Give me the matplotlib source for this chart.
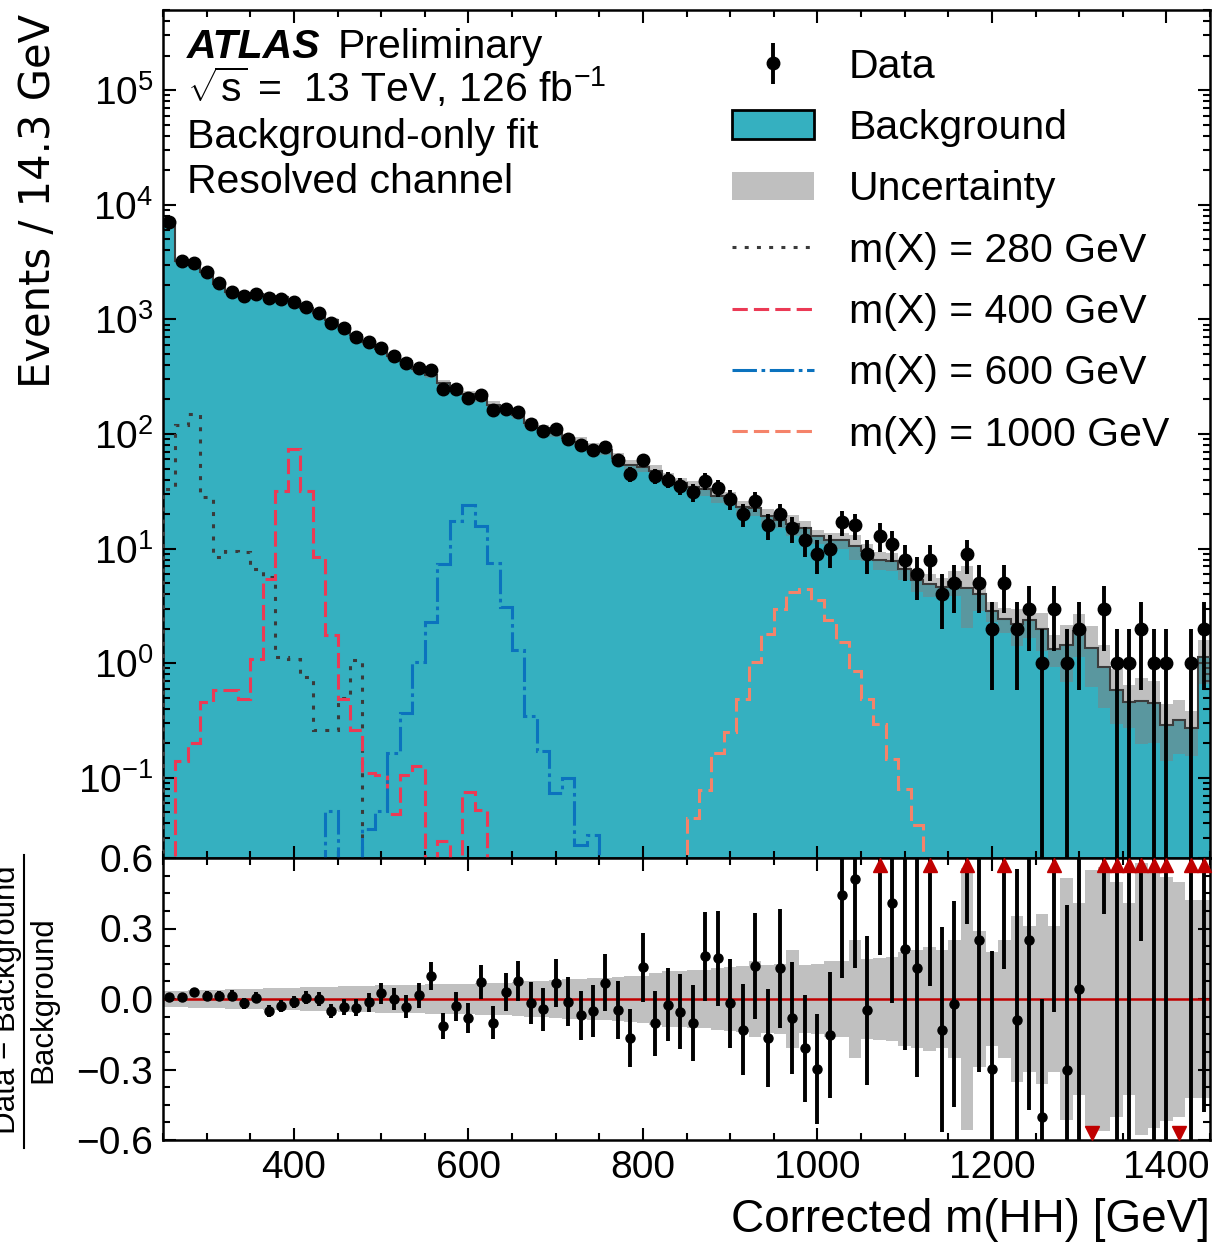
import numpy as np
import matplotlib
matplotlib.use("Agg")
import matplotlib.pyplot as plt
from matplotlib.patches import Patch
from matplotlib.lines import Line2D
from matplotlib.ticker import MultipleLocator, LogLocator, NullFormatter

plt.rcParams["font.family"] = "Liberation Sans"
plt.rcParams["mathtext.fontset"] = "custom"
plt.rcParams["mathtext.rm"] = "Liberation Sans"
plt.rcParams["mathtext.it"] = "Liberation Sans:italic"
plt.rcParams["mathtext.bf"] = "Liberation Sans:bold"

# 84 bins of 14.3 GeV between 250 and 1450 GeV
edges = np.linspace(250, 1450, 85)
centers = 0.5 * (edges[1:] + edges[:-1])

data = np.array([
    7100, 3240, 3090, 2610, 2060, 1740, 1610, 1670, 1530, 1520,
    1430, 1270, 1130, 936, 840, 701, 631, 563, 476, 420,
    373, 360, 248, 245, 206, 218, 162, 166, 157, 123,
    107, 110, 91, 80, 73, 77, 59, 45, 59, 43,
    40, 35, 31, 39, 34, 27, 20, 26, 16, 20,
    15, 12, 9, 10, 17, 16, 9, 13, 11, 8,
    6, 8, 4, 5, 9, 5, 2, 5, 2, 3,
    1, 3, 1, 2, 0, 3, 1, 1, 2, 1,
    1, 0, 1, 2], dtype=float)

background = np.array([
    7030, 3217, 3006, 2574, 2032, 1716, 1640, 1660, 1612, 1567,
    1450, 1262, 1129, 986, 869, 728, 640, 550, 476, 434,
    367, 328, 280, 253, 224, 203, 180, 161, 146, 125,
    112, 103, 92, 86, 77, 72, 62, 54, 52, 48,
    41, 37, 34.5, 33, 29, 27.5, 23, 22.8, 19.2, 17.7,
    16.3, 15.2, 12.8, 11.8, 11.8, 10.6, 9.45, 7.9, 7.8, 6.6,
    5.3, 4.9, 4.6, 5.1, 4.55, 4.0, 2.84, 2.45, 2.2, 2.4,
    2.0, 1.34, 1.43, 1.92, 1.37, 0.93, 0.59, 0.46, 0.47, 0.45,
    0.29, 0.32, 0.27, 1.13])

# relative background uncertainty per bin
rel_unc = np.array([
    0.035, 0.035, 0.037, 0.038, 0.04, 0.041, 0.042, 0.043, 0.045, 0.046,
    0.048, 0.05, 0.051, 0.052, 0.054, 0.055, 0.057, 0.058, 0.06, 0.06,
    0.061, 0.062, 0.063, 0.064, 0.065, 0.066, 0.068, 0.07, 0.072, 0.075,
    0.077, 0.08, 0.083, 0.086, 0.088, 0.09, 0.093, 0.096, 0.1, 0.11,
    0.12, 0.12, 0.123, 0.125, 0.13, 0.135, 0.14, 0.16, 0.145, 0.15,
    0.21, 0.145, 0.147, 0.16, 0.16, 0.25, 0.17, 0.175, 0.18, 0.2,
    0.21, 0.22, 0.21, 0.25, 0.556, 0.29, 0.2, 0.25, 0.353, 0.31,
    0.36, 0.31, 0.516, 0.41, 0.55, 0.56, 0.5, 0.41, 0.58, 0.55,
    0.52, 0.5, 0.42, 0.42])

# signal templates, first bin index + contents
sig280_start = 0
sig280 = [33, 121, 150, 28, 8.5, 9.6, 9.3, 6.6, 5.6, 1.13, 1.1, 0.76,
          0.26, 0.26, 0.5, 1.06]
sig400_start = 0
sig400 = [0, 0.14, 0.2, 0.46, 0.58, 0.58, 0.49, 1.1, 5.4, 32, 74, 32, 8.4,
          1.75, 0.49, 0.26, 0.11, 0.106, 0.048, 0.106, 0.126, 0, 0.028, 0,
          0.076, 0.052]
sig600_start = 13
sig600 = [0.051, 0, 0, 0.036, 0.051, 0.164, 0.37, 1.02, 2.29, 7.4, 17.5, 24,
          15.7, 7.5, 3.09, 1.3, 0.35, 0.17, 0.074, 0.099, 0.026, 0.032]
sig1000_start = 42
sig1000 = [0.045, 0.078, 0.166, 0.25, 0.49, 1.03, 1.81, 2.95, 4.2, 4.46,
           3.58, 2.4, 1.53, 0.86, 0.49, 0.295, 0.146, 0.08, 0.039]

signals = [
    (sig280_start, sig280, "m(X) = 280 GeV", "#3a3a3a", (0, (1.3, 2.7))),
    (sig400_start, sig400, "m(X) = 400 GeV", "#eb3a55", (0, (5, 2))),
    (sig600_start, sig600, "m(X) = 600 GeV", "#0b72be", (0, (8, 1.5, 1.2, 1.5))),
    (sig1000_start, sig1000, "m(X) = 1000 GeV", "#f5836a", (0, (5, 2))),
]

BKG_COLOR = "#35b0c0"
RED = "#c00000"
TINY = 1e-4

# sqrt(N) errors on the data
err = np.sqrt(data)
err_lo = np.minimum(err, data - TINY)
err_hi = err

W, H = 1217, 1243
fig = plt.figure(figsize=(W / 100, H / 100), dpi=100)
ax = fig.add_axes([163 / W, 1 - 858 / H, 1047 / W, 848 / H])
rax = fig.add_axes([163 / W, 1 - 1140 / H, 1047 / W, 282 / H], sharex=ax)

# ---- upper panel ----
ax.stairs(background, edges, baseline=TINY, fill=True, color=BKG_COLOR, zorder=1)
ax.stairs(background * (1 + rel_unc), edges, baseline=background * (1 - rel_unc),
          fill=True, color="gray", alpha=0.5, lw=0, zorder=2)
ax.stairs(background, edges, baseline=None, color="#3c3c3c", lw=1.5, zorder=3)

for start, vals, label, col, ls in signals:
    full = np.zeros(len(data))
    full[start:start + len(vals)] = vals
    full = np.where(full > 0, full, TINY)
    ax.stairs(full, edges, baseline=TINY, color=col, lw=2.2, ls=ls, zorder=4)

has = data > 0
eb = ax.errorbar(centers[has], data[has], yerr=[err_lo[has], err_hi[has]],
                 fmt="o", color="k", ms=9, elinewidth=2.8, capsize=0, zorder=6)

ax.set_yscale("log")
ax.set_xlim(250, 1450)
ax.set_ylim(0.02, 5e5)

ax.text(0.0229, 0.9434, "ATLAS", transform=ax.transAxes, fontsize=29.5,
        fontweight="bold", fontstyle="italic", va="baseline")
ax.text(0.1671, 0.9434, "Preliminary", transform=ax.transAxes, fontsize=29.5,
        va="baseline")
ax.text(0.0229, 0.8915, r"$\sqrt{\mathrm{s}}$ =  13 TeV, 126 fb$^{-1}$",
        transform=ax.transAxes, fontsize=29.5, va="baseline")
ax.text(0.0229, 0.8373, "Background-only fit", transform=ax.transAxes, fontsize=29.5,
        va="baseline")
ax.text(0.0229, 0.7842, "Resolved channel", transform=ax.transAxes, fontsize=29.5,
        va="baseline")

handles = [eb,
           Patch(facecolor=BKG_COLOR, edgecolor="k", lw=2),
           Patch(facecolor="#bfbfbf", edgecolor="none")]
labels = ["Data", "Background", "Uncertainty"]
for start, vals, label, col, ls in signals:
    handles.append(Line2D([], [], color=col, lw=2.2, ls=ls))
    labels.append(label)
ax.legend(handles, labels, loc="upper left", bbox_to_anchor=(0.5435, 0.9557),
          fontsize=29.5, frameon=False, handlelength=2.0, handletextpad=0.85,
          labelspacing=0.57, borderaxespad=0, borderpad=0)

fig.text(38 / W, 1 - 14 / H, "Events / 14.3 GeV", rotation=90, ha="center", va="top",
         fontsize=30, family="DejaVu Sans")

# ---- ratio panel ----
ratio = np.where(has, data / background - 1, -1.0)
r_lo = err_lo / background
r_hi = err_hi / background

rax.stairs(rel_unc, edges, baseline=-rel_unc, fill=True, color="#c0c0c0", lw=0, zorder=1)
rax.axhline(0, color=RED, lw=1.8, zorder=2)
rax.errorbar(centers[has], ratio[has], yerr=[r_lo[has], r_hi[has]], fmt="o",
             color="k", ms=6.5, elinewidth=2.8, capsize=0, zorder=4)
up = has & (ratio > 0.6)
rax.plot(centers[up], np.full(up.sum(), 0.57), "^", color=RED, ms=10,
         clip_on=False, zorder=5)
down = ~has
rax.plot(centers[down], np.full(down.sum(), -0.57), "v", color=RED, ms=10,
         clip_on=False, zorder=5)
rax.set_ylim(-0.6, 0.6)

# fraction-style label for the ratio
fig.text(7 / W, 1 - 1000 / H, "Data \u2212 Background", rotation=90, ha="center",
         va="center", fontsize=22.5)
fig.text(43 / W, 1 - 1000 / H, "Background", rotation=90, ha="center",
         va="center", fontsize=22.5)
fig.add_artist(Line2D([24 / W, 24 / W], [1 - 855 / H, 1 - 1148 / H],
                      transform=fig.transFigure, color="k", lw=1.5))

fig.text(1210 / W, 1 - 1232 / H, "Corrected m(HH) [GeV]", ha="right", va="baseline",
         fontsize=33)

# ---- axes cosmetics ----
for a in (ax, rax):
    for sp in a.spines.values():
        sp.set_linewidth(1.8)
    a.tick_params(which="both", direction="in", top=True, right=True, width=1.5,
                  labelsize=28, pad=7)
    a.tick_params(which="major", length=9)
    a.tick_params(which="minor", length=5)
    a.xaxis.set_major_locator(MultipleLocator(200))
    a.xaxis.set_minor_locator(MultipleLocator(50))

ax.yaxis.set_major_locator(LogLocator(base=10, numticks=20))
ax.yaxis.set_minor_locator(LogLocator(base=10, subs=np.arange(2, 10), numticks=200))
ax.yaxis.set_minor_formatter(NullFormatter())
ax.tick_params(labelbottom=False)
rax.yaxis.set_major_locator(MultipleLocator(0.3))
rax.yaxis.set_minor_locator(MultipleLocator(0.075))

fig.savefig("out.png", dpi=100)
